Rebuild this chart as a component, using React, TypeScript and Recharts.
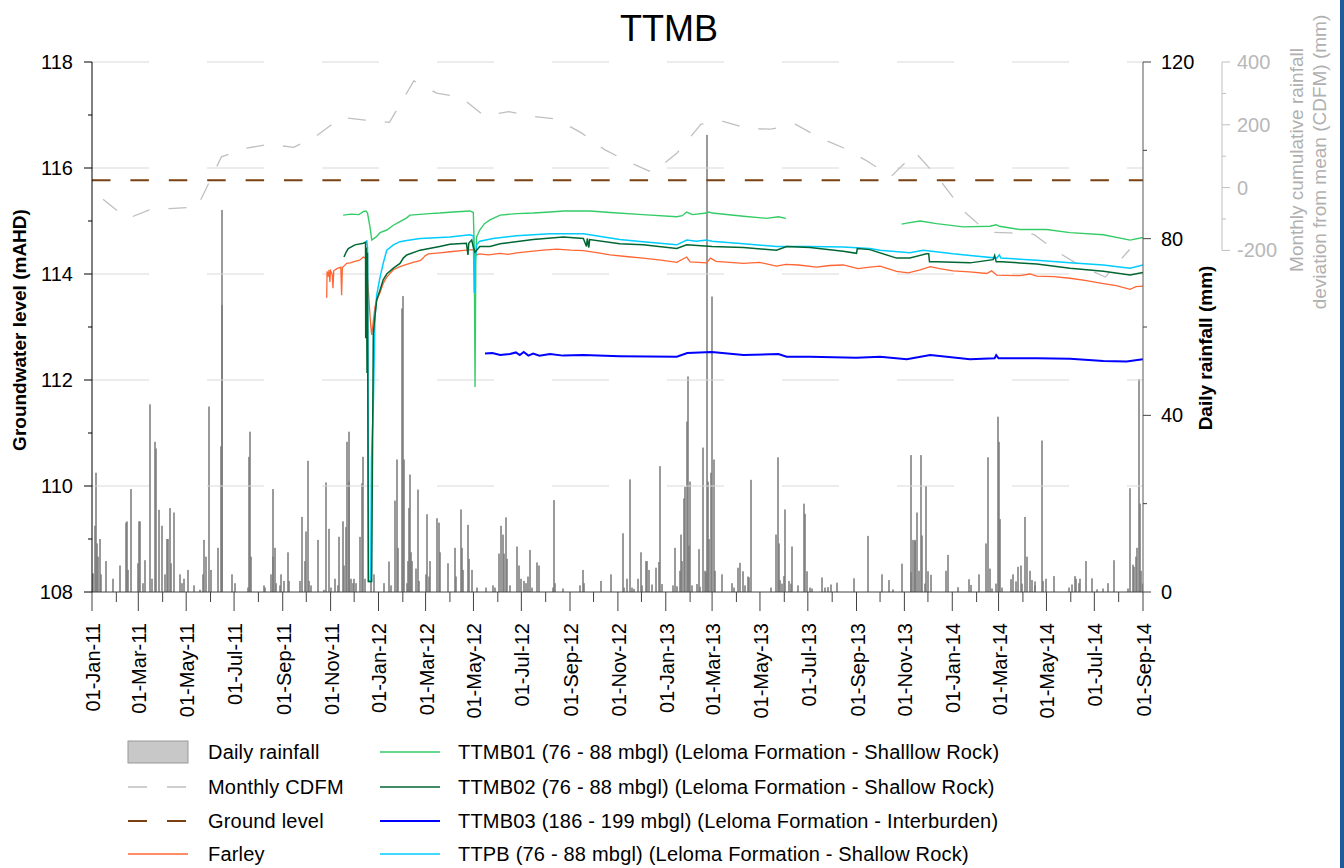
import React from "react";
import { ComposedChart, Bar, Line, XAxis, YAxis, ReferenceLine } from "recharts";

// ---------- data (x = days since 01-Jan-2011) ----------
const RAINFALL: [number, number][] = [
  [1, 4.2], [4, 15], [5, 27], [7, 11], [8, 8], [10, 12], [11, 4], [18, 7], [27, 3], [36, 6], [43, 15.7], [45, 16], [46, 5],
  [50, 23.3], [59, 6.5], [60, 16], [61, 16], [65, 2], [68, 7.2], [74, 42.5], [76, 3], [80, 34], [81, 32.5], [86, 18.6],
  [89, 15], [93, 4], [96, 12], [97, 12], [99, 19], [101, 6.5], [105, 18], [112, 4], [115, 2], [117, 3], [122, 5], [130, 1.5],
  [137, 0.5], [141, 4], [143, 11.8], [145, 8], [149, 42], [151, 5], [161, 10], [164, 33], [165, 86.5], [166, 65], [179, 4],
  [182, 2], [199, 1], [200, 30.6], [201, 36.3], [202, 8], [219, 1.5], [221, 1], [228, 4], [230, 8], [231, 23.3], [233, 10],
  [235, 2], [240, 1.5], [241, 4], [244, 2.5], [250, 9], [251, 2.5], [265, 2.5], [267, 17], [271, 7], [273, 13.7], [275, 29.7],
  [277, 2.5], [279, 1.5], [288, 11.8], [296, 0.5], [298, 24.8], [302, 14.3], [304, 1], [309, 3], [313, 1.5], [315, 12.5],
  [320, 16], [321, 6], [324, 14.7], [325, 34], [327, 36.3], [328, 25], [330, 3], [333, 2], [334, 3], [336, 2], [341, 12.5],
  [344, 24.6], [345, 30.6], [348, 3], [355, 4.5], [359, 4], [372, 2], [378, 6.9], [381, 1.5], [386, 20.7], [388, 30], [390, 10],
  [395, 64.2], [396, 67], [397, 30], [401, 2], [403, 7], [404, 19], [405, 26.6], [407, 9], [408, 7], [413, 5.3], [415, 23.2],
  [417, 2.5], [425, 4], [427, 17.6], [429, 3.5], [431, 7], [440, 16.7], [442, 15.7], [444, 9], [453, 6.5], [463, 10], [464, 3.5],
  [470, 18.7], [472, 10], [473, 5], [479, 15.2], [480, 7.5], [484, 5], [491, 1], [502, 1], [511, 1.5], [513, 1], [519, 8.7],
  [521, 15], [523, 13], [525, 8.7], [527, 16.9], [529, 7.5], [532, 1.5], [542, 10.3], [544, 6], [546, 3], [551, 2.5], [553, 2],
  [556, 3.5], [558, 9.5], [560, 1], [567, 6.7], [569, 6], [587, 1], [589, 20.8], [590, 2], [600, 0.8], [622, 1.5], [625, 5],
  [627, 2], [649, 2.5], [661, 4], [677, 13.3], [678, 1], [682, 3], [686, 25.5], [688, 1], [690, 0.7], [696, 3], [699, 9],
  [701, 1.5], [706, 7], [707, 7], [710, 5], [714, 1.7], [719, 5.5], [722, 6.8], [724, 28.5], [726, 1.8], [740, 1.5], [743, 10],
  [745, 1.3], [749, 4.8], [750, 13], [752, 7], [754, 21.2], [756, 23.8], [758, 38.6], [759, 48.8], [761, 10.5], [762, 25],
  [764, 1.5], [771, 1.8], [773, 9.7], [775, 1.2], [779, 32.7], [781, 4.8], [782, 4.5], [784, 103.5], [785, 25], [786, 12],
  [789, 27], [790, 66.9], [792, 30], [794, 4.8], [803, 4], [816, 2], [818, 1], [823, 5.5], [826, 6.6], [829, 4.7], [832, 1.5],
  [836, 3.5], [837, 3.3], [840, 25.4], [865, 1], [872, 13], [874, 30.5], [875, 11], [877, 2.7], [879, 1.9], [882, 3.6],
  [883, 18.7], [888, 2.5], [890, 1.9], [892, 10.3], [900, 1.5], [907, 20], [909, 17.7], [911, 4.7], [915, 1], [917, 0.8],
  [930, 3.3], [934, 1], [938, 1.1], [941, 1.7], [949, 2.1], [971, 3.1], [989, 12.7], [1006, 4], [1016, 2.7], [1021, 0.6],
  [1032, 6.4], [1043, 4.5], [1044, 31], [1046, 11.8], [1048, 11.5], [1049, 11.8], [1051, 18], [1053, 4.8], [1056, 31],
  [1057, 12.8], [1061, 1.9], [1063, 24], [1065, 4.7], [1069, 3.9], [1088, 4.8], [1090, 8.4], [1103, 1.1], [1117, 2.9],
  [1120, 1.6], [1130, 4], [1139, 11], [1142, 30.5], [1144, 5.3], [1147, 0.8], [1152, 1.9], [1154, 39.7], [1156, 34],
  [1157, 16.5], [1160, 1], [1171, 2.9], [1174, 4], [1177, 2.4], [1180, 5.7], [1183, 6], [1185, 1.9], [1189, 17], [1191, 8],
  [1195, 4.8], [1197, 2.7], [1201, 2.4], [1202, 1.5], [1210, 34.3], [1212, 2.5], [1215, 3], [1226, 3.6], [1245, 1],
  [1248, 1.7], [1252, 3.6], [1254, 3], [1257, 2], [1259, 3], [1267, 7], [1274, 3.1], [1281, 0.6], [1288, 0.8], [1295, 2],
  [1302, 7.2], [1320, 0.8], [1323, 23.5], [1326, 6.2], [1328, 5.7], [1330, 8], [1332, 10], [1334, 48.2], [1335, 20],
  [1336, 4.8], [1339, 1.9],
];

// Monthly CDFM (mm), plotted mid-month, Jan-11 .. Aug-14
const CDFM_VALUES: number[] = [
  -37, -99, -71, -66, -62, 98, 125, 138, 128, 167, 224, 215,
  208, 340, 301, 288, 228, 242, 227, 218, 175, 121, 81, 48,
  109, 202, 211, 188, 186, 202, 160, 127, 84, 35, 112, 28,
  -74, -142, -144, -149, -205, -252, -285, -197,
];

const GROUND_LEVEL = 115.77;

const FARLEY: [number, number][] = [
  [299, 113.55], [299.5, 114.05], [301, 113.95], [302, 114.08], [303, 113.85], [304, 114.06], [306, 114.0], [307, 113.73],
  [308, 114.06], [312, 114.1], [317, 114.13], [318, 113.6], [319, 114.12], [324.5, 114.2], [329, 114.21], [335, 114.24],
  [341, 114.26], [345.6, 114.32], [349, 114.3], [352, 113.7], [355, 113.05], [356.3, 112.85], [357.5, 113.0], [360.5, 113.38],
  [362.7, 113.5], [367, 113.65], [371, 113.82], [375.5, 113.94], [384, 114.08], [392.4, 114.14], [401, 114.18], [409, 114.22],
  [418, 114.25], [422, 114.3], [424, 114.34], [428.5, 114.38], [443, 114.4], [456, 114.42], [477, 114.45], [486, 114.46],
  [490, 114.36], [494, 114.38], [505, 114.36], [520, 114.39], [530, 114.37], [541, 114.4], [562, 114.43], [575, 114.45],
  [592, 114.47], [610, 114.45], [626, 114.44], [645, 114.4], [660, 114.36], [680, 114.33], [702, 114.3], [725, 114.26],
  [745, 114.22], [757.7, 114.32], [762, 114.23], [783, 114.21], [788, 114.3], [795, 114.24], [830, 114.2], [850, 114.22],
  [872, 114.15], [884, 114.18], [900, 114.17], [923, 114.13], [940, 114.16], [957, 114.17], [976, 114.1], [991, 114.13],
  [1004, 114.15], [1025, 114.05], [1040, 114.02], [1055, 114.08], [1068, 114.14], [1080, 114.1], [1097, 114.06],
  [1118, 114.04], [1140, 114.01], [1146, 114.06], [1152.6, 113.98], [1182, 113.97], [1195, 114.0], [1203.6, 113.96],
  [1225, 113.95], [1246, 113.92], [1265, 113.88], [1288.5, 113.82], [1305, 113.78], [1322.5, 113.71], [1330, 113.76],
  [1339, 113.77],
];

const TTMB01: [number, number | null][] = [
  [320, 115.11], [330, 115.13], [340, 115.12], [346, 115.18], [349, 115.19], [351, 115.15], [354, 114.9], [356.5, 114.64],
  [362, 114.7], [367, 114.78], [375.5, 114.83], [384, 114.92], [392.4, 114.99], [401, 115.06], [405, 115.11], [413.7, 115.12],
  [430, 115.14], [443, 115.15], [460, 115.17], [481.6, 115.19], [485.8, 115.16], [487, 114.5], [488, 111.87], [489, 114.3],
  [490, 114.7], [494, 114.83], [500, 114.95], [507, 115.02], [520, 115.11], [541, 115.14], [562, 115.15], [583.5, 115.17],
  [600.5, 115.19], [634.5, 115.19], [660, 115.16], [702, 115.12], [745, 115.08], [752, 115.1], [757.7, 115.17], [765, 115.12],
  [783, 115.15], [786, 115.17], [790, 115.15], [830, 115.09], [859.6, 115.05], [874.4, 115.08], [884, 115.05],
  [950, null],
  [1031.6, 114.94], [1038, 114.96], [1055, 115.0], [1076, 114.95], [1110, 114.89], [1144, 114.9], [1152, 114.93],
  [1156, 114.9], [1182, 114.84], [1216, 114.84], [1246, 114.78], [1288.5, 114.74], [1322.5, 114.64], [1339, 114.69],
];

const TTMB02: [number, number][] = [
  [321, 114.32], [324, 114.42], [326.5, 114.48], [335, 114.55], [345.6, 114.58], [348.5, 114.6], [348.7, 112.79], [349.5, 114.5],
  [350.4, 112.13], [351, 114.4], [352, 108.2], [355, 108.2], [356.3, 108.2], [358.4, 112.89], [360.5, 113.2], [362.7, 113.51],
  [367, 113.7], [371, 113.89], [375.5, 114.0], [384, 114.11], [392.4, 114.2], [396.6, 114.3], [401, 114.36], [418, 114.45],
  [443, 114.52], [456, 114.56], [477, 114.58], [479, 114.36], [480, 114.58], [483.7, 114.64], [486, 114.5], [488, 114.41],
  [494, 114.52], [507, 114.52], [520, 114.57], [562, 114.65], [600.5, 114.7], [626, 114.67], [630, 114.52], [631, 114.67],
  [633, 114.5], [634, 114.65], [672.4, 114.57], [702, 114.55], [745, 114.48], [757.7, 114.55], [790, 114.52], [830, 114.5],
  [872, 114.45], [885, 114.52], [914.8, 114.5], [957, 114.43], [974, 114.39], [975, 114.48], [991, 114.46], [1025, 114.3],
  [1042, 114.3], [1063, 114.38], [1066, 114.38], [1067, 114.23], [1076, 114.23], [1118.6, 114.21], [1148, 114.27],
  [1150, 114.35], [1152, 114.23], [1159, 114.23], [1203.6, 114.19], [1246, 114.11], [1288.5, 114.05], [1322.5, 113.98],
  [1339, 114.03],
];

const TTMB03: [number, number][] = [
  [500.7, 112.5], [510, 112.51], [520, 112.47], [532.5, 112.49], [540, 112.52], [545, 112.47], [550, 112.53], [556, 112.46],
  [562, 112.5], [570, 112.46], [583.5, 112.49], [600, 112.46], [626, 112.47], [672.4, 112.45], [745, 112.44], [758.4, 112.51],
  [789.5, 112.53], [830, 112.47], [874.4, 112.49], [885, 112.44], [914.8, 112.44], [974, 112.42], [1004, 112.44],
  [1038, 112.39], [1068, 112.47], [1118.6, 112.39], [1150, 112.41], [1152, 112.47], [1155, 112.41], [1203.6, 112.41],
  [1246, 112.4], [1288.5, 112.36], [1318, 112.35], [1339, 112.39],
];

const TTPB: [number, number][] = [
  [350, 114.64], [351, 114.5], [352.5, 108.2], [355, 108.2], [356, 110.5], [358.4, 111.5], [360.5, 113.19], [362.7, 113.6],
  [367, 113.94], [371, 114.2], [375.5, 114.45], [384, 114.55], [392.4, 114.61], [401, 114.63], [418, 114.67], [456, 114.7],
  [481.6, 114.74], [485.8, 114.72], [487, 113.64], [488, 114.2], [490, 114.55], [494, 114.62], [511, 114.67], [541, 114.72],
  [583.5, 114.76], [626, 114.76], [672.4, 114.65], [702, 114.61], [745, 114.55], [757.7, 114.64], [770, 114.62],
  [783, 114.64], [790, 114.62], [830, 114.57], [872, 114.52], [885, 114.52], [914.8, 114.52], [957, 114.51], [991, 114.48],
  [1004, 114.45], [1042, 114.4], [1059, 114.45], [1097, 114.38], [1152.6, 114.3], [1156, 114.36], [1158, 114.3],
  [1203.6, 114.26], [1246, 114.21], [1288.5, 114.17], [1322.5, 114.11], [1339, 114.17],
];

const GW_TICKS = [108, 109, 110, 111, 112, 113, 114, 115, 116, 117, 118];
const GW_GRID = [110, 112, 114, 116, 118];
const RAIN_TICKS = [0, 20, 40, 60, 80, 100, 120];
const CDFM_TICKS = [-200, -100, 0, 100, 200, 300, 400];
const MONTHS = ["Jan", "Feb", "Mar", "Apr", "May", "Jun", "Jul", "Aug", "Sep", "Oct", "Nov", "Dec"];

// ---------- derived ----------
const DAY0 = Date.UTC(2011, 0, 1);
const dayOf = (y: number, m: number, d: number) => (Date.UTC(y, m, d) - DAY0) / 86400000;
const END_DAY = dayOf(2014, 8, 1);

const MONTH_TICKS: number[] = [];
const MONTH_LABELS: Record<number, string> = {};
for (let y = 2011; y <= 2014; y++) {
  for (let m = 0; m < 12; m++) {
    const d = dayOf(y, m, 1);
    if (d <= END_DAY) {
      MONTH_TICKS.push(d);
      if (m % 2 === 0) MONTH_LABELS[d] = `01-${MONTHS[m]}-${String(y).slice(2)}`;
    }
  }
}

const rainData = RAINFALL.map(([d, mm]) => ({ d, rain: mm }));
const cdfmData = CDFM_VALUES.map((v, i) => ({ d: dayOf(2011, i, 15), v }));
const toSeries = (arr: [number, number | null][]) => arr.map(([d, v]) => ({ d, v }));

// ---------- layout ----------
const W = 1344;
const H = 868;
const TOP = 62;
const PLOT_H = 530;
const CDFM_MIN = -1288;
const CDFM_MAX = 400;
const FONT = "'Liberation Sans', Arial, sans-serif";

const C = {
  farley: "#FF6633",
  ttmb01: "#33CC66",
  ttmb02: "#006633",
  ttmb03: "#0000FF",
  ttpb: "#00CCFF",
  ground: "#7A4010",
  cdfm: "#BFBFBF",
  rain: "#7A7A7A",
  grid: "#D9D9D9",
};

const LeftTick = (p: any) => {
  const { x, y, payload } = p;
  const major = payload.value % 2 === 0;
  return (
    <g>
      <line x1={x} x2={x - (major ? 8 : 4)} y1={y} y2={y} stroke="#000" />
      {major && (
        <text x={x - 19} y={y} dy="0.35em" textAnchor="end" fontSize={20} fontFamily={FONT} fill="#000">
          {payload.value}
        </text>
      )}
    </g>
  );
};

const RainTick = (p: any) => {
  const { x, y, payload } = p;
  const major = payload.value % 40 === 0;
  return (
    <g>
      <line x1={x} x2={x + (major ? 8 : 4)} y1={y} y2={y} stroke="#404040" />
      {major && (
        <text x={x + 18} y={y} dy="0.35em" textAnchor="start" fontSize={20} fontFamily={FONT} fill="#000">
          {payload.value}
        </text>
      )}
    </g>
  );
};

const CdfmTick = (p: any) => {
  const { x, y, payload } = p;
  const major = payload.value % 200 === 0;
  const seg = (100 * PLOT_H) / (CDFM_MAX - CDFM_MIN);
  return (
    <g>
      {payload.value > -200 && <line x1={x} x2={x} y1={y} y2={y + seg} stroke={C.cdfm} />}
      <line x1={x} x2={x + (major ? 8 : 4)} y1={y} y2={y} stroke={C.cdfm} />
      {major && (
        <text x={x + 15} y={y} dy="0.35em" textAnchor="start" fontSize={20} fontFamily={FONT} fill="#B8B8B8">
          {payload.value}
        </text>
      )}
    </g>
  );
};

const XTick = (p: any) => {
  const { x, y, payload } = p;
  const label = MONTH_LABELS[payload.value];
  const major = label !== undefined;
  const ty = y + 31;
  return (
    <g>
      <line x1={x} x2={x} y1={y} y2={y + (major ? 19 : 10)} stroke="#404040" />
      {major && (
        <text
          x={x + 1}
          y={ty}
          dy="0.35em"
          textAnchor="end"
          fontSize={20}
          fontFamily={FONT}
          fill="#000"
          transform={`rotate(-90, ${x + 1}, ${ty})`}
        >
          {label}
        </text>
      )}
    </g>
  );
};

const RainBar = (p: any) => {
  const { x, y, width, height } = p;
  if (!height || height <= 0) return null;
  const cx = Math.round(x + width / 2);
  return <rect x={cx - 0.75} y={y} width={1.5} height={height} fill={C.rain} />;
};

const LEGEND_LEFT = [
  { name: "Daily rainfall", kind: "box" },
  { name: "Monthly CDFM", kind: "dash", color: C.cdfm },
  { name: "Ground level", kind: "dash", color: C.ground },
  { name: "Farley", kind: "line", color: C.farley },
];
const LEGEND_RIGHT = [
  { name: "TTMB01 (76 - 88 mbgl) (Leloma Formation - Shalllow Rock)", color: C.ttmb01 },
  { name: "TTMB02 (76 - 88 mbgl) (Leloma Formation - Shallow Rock)", color: C.ttmb02 },
  { name: "TTMB03 (186 - 199 mbgl) (Leloma Formation - Interburden)", color: C.ttmb03 },
  { name: "TTPB (76 - 88 mbgl) (Leloma Formation - Shallow Rock)", color: C.ttpb },
];
const ROWS = [752, 787, 821, 854];

export default function App() {
  return (
    <div style={{ position: "absolute", left: 0, top: 0, width: W, height: H, background: "#fff" }}>
      <ComposedChart
        width={W}
        height={H}
        data={rainData}
        margin={{ top: TOP, right: 0, bottom: 136, left: 0 }}
      >
        <XAxis
          xAxisId="t"
          dataKey="d"
          type="number"
          domain={[0, END_DAY]}
          allowDataOverflow
          ticks={MONTH_TICKS}
          interval={0}
          tick={<XTick />}
          tickLine={false}
          tickSize={0}
          tickMargin={0}
          axisLine={{ stroke: "#404040" }}
          height={140}
        />
        <YAxis
          yAxisId="gw"
          orientation="left"
          width={92}
          domain={[108, 118]}
          ticks={GW_TICKS}
          interval={0}
          tick={<LeftTick />}
          tickLine={false}
          tickSize={0}
          tickMargin={0}
          axisLine={{ stroke: "#000" }}
        />
        <YAxis
          yAxisId="aRain"
          orientation="right"
          width={79}
          domain={[0, 120]}
          ticks={RAIN_TICKS}
          interval={0}
          tick={<RainTick />}
          tickLine={false}
          tickSize={0}
          tickMargin={0}
          axisLine={{ stroke: "#595959" }}
        />
        <YAxis
          yAxisId="bCdfm"
          orientation="right"
          width={122}
          domain={[CDFM_MIN, CDFM_MAX]}
          ticks={CDFM_TICKS}
          interval={0}
          tick={<CdfmTick />}
          tickLine={false}
          tickSize={0}
          tickMargin={0}
          axisLine={false}
        />
        {GW_GRID.map((v) => (
          <ReferenceLine
            key={v}
            xAxisId="t"
            yAxisId="gw"
            y={v}
            stroke={C.grid}
            strokeWidth={1}
            strokeDasharray="57 58"
          />
        ))}
        <Bar
          xAxisId="t"
          yAxisId="aRain"
          dataKey="rain"
          fill={C.rain}
          barSize={1.5}
          shape={<RainBar />}
          isAnimationActive={false}
        />
        <ReferenceLine
          xAxisId="t"
          yAxisId="gw"
          y={GROUND_LEVEL}
          stroke={C.ground}
          strokeWidth={2}
          strokeDasharray="18.5 19.9"
        />
        <Line
          xAxisId="t"
          yAxisId="bCdfm"
          data={cdfmData}
          dataKey="v"
          stroke={C.cdfm}
          strokeWidth={1.3}
          strokeDasharray="18 19"
          dot={false}
          isAnimationActive={false}
        />
        <Line xAxisId="t" yAxisId="gw" data={toSeries(FARLEY)} dataKey="v" stroke={C.farley} strokeWidth={1.3} dot={false} isAnimationActive={false} />
        <Line xAxisId="t" yAxisId="gw" data={toSeries(TTMB01)} dataKey="v" stroke={C.ttmb01} strokeWidth={1.4} dot={false} isAnimationActive={false} />
        <Line xAxisId="t" yAxisId="gw" data={toSeries(TTMB03)} dataKey="v" stroke={C.ttmb03} strokeWidth={2} dot={false} isAnimationActive={false} />
        <Line xAxisId="t" yAxisId="gw" data={toSeries(TTPB)} dataKey="v" stroke={C.ttpb} strokeWidth={1.5} dot={false} isAnimationActive={false} />
        <Line xAxisId="t" yAxisId="gw" data={toSeries(TTMB02)} dataKey="v" stroke={C.ttmb02} strokeWidth={1.5} dot={false} isAnimationActive={false} />
      </ComposedChart>

      <svg width={W} height={H} style={{ position: "absolute", left: 0, top: 0, pointerEvents: "none" }}>
        <text x={669} y={41} textAnchor="middle" fontSize={36} fontFamily={FONT} fill="#000">
          TTMB
        </text>
        <text
          x={19}
          y={330}
          dy="0.35em"
          textAnchor="middle"
          fontSize={19}
          fontWeight="bold"
          fontFamily={FONT}
          transform="rotate(-90, 19, 330)"
        >
          Groundwater level (mAHD)
        </text>
        <text
          x={1205}
          y={348}
          dy="0.35em"
          textAnchor="middle"
          fontSize={19}
          fontWeight="bold"
          fontFamily={FONT}
          transform="rotate(-90, 1205, 348)"
        >
          Daily rainfall (mm)
        </text>
        <text
          x={1296}
          y={160}
          dy="0.35em"
          textAnchor="middle"
          fontSize={19}
          fontFamily={FONT}
          fill="#B0B0B0"
          transform="rotate(-90, 1296, 160)"
        >
          Monthly cumulative rainfall
        </text>
        <text
          x={1319}
          y={162}
          dy="0.35em"
          textAnchor="middle"
          fontSize={19}
          fontFamily={FONT}
          fill="#B0B0B0"
          transform="rotate(-90, 1319, 162)"
        >
          deviation from mean (CDFM) (mm)
        </text>

        {LEGEND_LEFT.map((it, i) => {
          const cy = ROWS[i];
          return (
            <g key={it.name}>
              {it.kind === "box" && <rect x={128} y={cy - 11} width={60} height={22} fill="#C8C8C8" stroke="#999" />}
              {it.kind === "dash" && (
                <line x1={128} x2={188} y1={cy} y2={cy} stroke={it.color} strokeWidth={it.color === C.ground ? 2 : 1.3} strokeDasharray="19 20" />
              )}
              {it.kind === "line" && <line x1={128} x2={188} y1={cy} y2={cy} stroke={it.color} strokeWidth={1.3} />}
              <text x={208} y={cy} dy="0.35em" fontSize={20} letterSpacing={0.2} fontFamily={FONT} fill="#000">
                {it.name}
              </text>
            </g>
          );
        })}
        {LEGEND_RIGHT.map((it, i) => {
          const cy = ROWS[i];
          return (
            <g key={it.name}>
              <line x1={380} x2={440} y1={cy} y2={cy} stroke={it.color} strokeWidth={it.color === C.ttmb03 ? 2 : 1.3} />
              <text x={458} y={cy} dy="0.35em" fontSize={20} letterSpacing={0.2} fontFamily={FONT} fill="#000">
                {it.name}
              </text>
            </g>
          );
        })}
      </svg>
      <div style={{ position: "absolute", left: 1340, top: 0, width: 4, height: H, background: "#1F5B98" }} />
    </div>
  );
}
